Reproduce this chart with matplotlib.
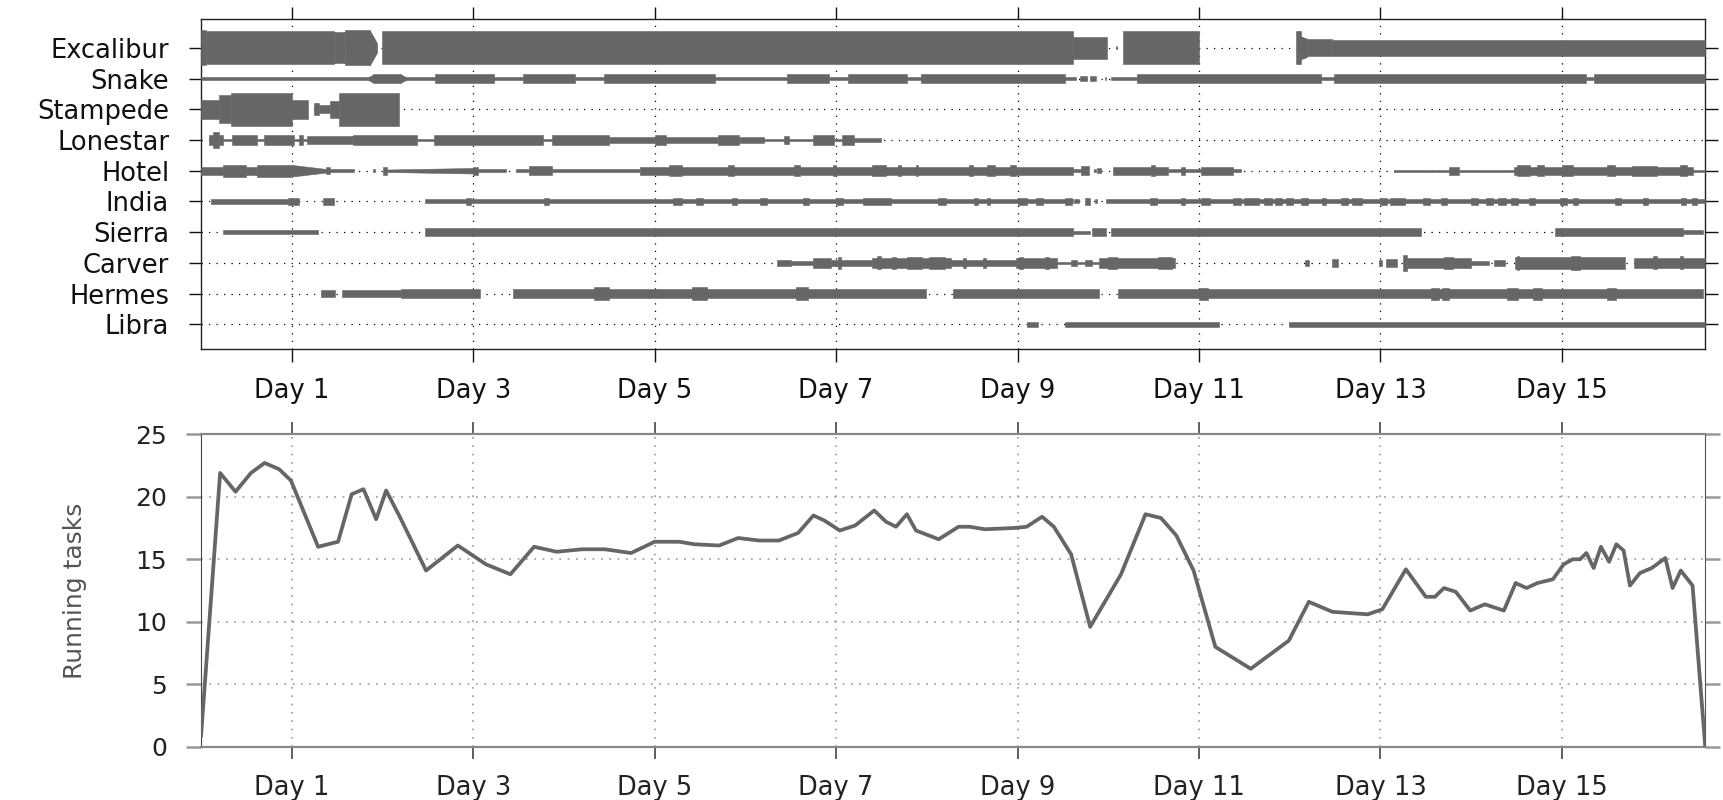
import matplotlib.pyplot as plt

rows = ["Excalibur", "Snake", "Stampede", "Lonestar", "Hotel",
        "India", "Sierra", "Carver", "Hermes", "Libra"]

# lane pieces: (start day, end day, width) or (start, end, width at start, width at end)
excalibur = [(0.0, 0.05, 1.14), (0.05, 1.46, 1.08), (1.46, 1.59, 1.0), (1.59, 1.86, 1.14),
             (1.86, 1.94, 1.14, 0.3), (1.99, 9.61, 1.08), (9.61, 9.99, 0.72), (10.08, 10.10, 0.1),
             (10.16, 11.0, 1.08), (12.07, 12.12, 1.08), (12.12, 12.19, 0.75, 0.6),
             (12.19, 12.47, 0.56), (12.47, 16.58, 0.52)]
snake = [(0.0, 1.84, 0.09), (1.84, 1.90, 0.09, 0.27), (1.90, 2.20, 0.27), (2.20, 2.26, 0.27, 0.09),
         (2.26, 2.58, 0.09), (2.58, 3.23, 0.27), (3.23, 3.55, 0.09), (3.55, 4.12, 0.27),
         (4.12, 4.44, 0.09), (4.44, 5.66, 0.27), (5.66, 6.46, 0.09), (6.46, 6.92, 0.27),
         (6.92, 7.13, 0.09), (7.13, 7.78, 0.27), (7.78, 7.93, 0.09), (7.93, 9.52, 0.27),
         (9.52, 9.64, 0.09), (9.69, 9.77, 0.15), (9.80, 9.86, 0.15), (9.96, 9.98, 0.09),
         (10.03, 10.32, 0.09), (10.32, 12.35, 0.27), (12.35, 12.49, 0.09), (12.49, 15.27, 0.27),
         (15.27, 15.35, 0.09), (15.35, 16.58, 0.27)]
stampede = [(0.0, 0.2, 0.6), (0.2, 0.33, 0.9), (0.33, 1.0, 1.08), (1.0, 1.18, 0.6),
            (1.25, 1.30, 0.4), (1.30, 1.42, 0.25), (1.42, 1.52, 0.55), (1.52, 2.18, 1.08)]
lonestar = [(0.09, 0.13, 0.3), (0.13, 0.2, 0.55), (0.2, 0.24, 0.3), (0.24, 0.34, 0.08),
            (0.34, 0.62, 0.33), (0.62, 0.69, 0.08), (0.69, 1.02, 0.33), (1.02, 1.08, 0.08),
            (1.08, 1.12, 0.3), (1.12, 1.17, 0.08), (1.17, 1.67, 0.28), (1.67, 2.38, 0.33),
            (2.38, 2.57, 0.08), (2.57, 3.77, 0.35), (3.77, 3.87, 0.08), (3.87, 4.5, 0.33),
            (4.5, 5.0, 0.2), (5.0, 5.13, 0.33), (5.13, 5.7, 0.2), (5.7, 5.93, 0.33),
            (5.93, 6.2, 0.2), (6.2, 6.43, 0.08), (6.43, 6.48, 0.25), (6.48, 6.75, 0.08),
            (6.75, 6.98, 0.3), (6.98, 7.06, 0.08), (7.06, 7.2, 0.3), (7.2, 7.49, 0.12)]
hotel = [(0.0, 0.24, 0.27), (0.24, 0.49, 0.38), (0.49, 0.62, 0.27), (0.62, 1.0, 0.38),
         (1.0, 1.40, 0.38, 0.1), (1.38, 1.42, 0.22), (1.42, 1.69, 0.1), (1.90, 1.92, 0.1),
         (2.01, 2.05, 0.25), (2.05, 3.0, 0.08, 0.18), (3.0, 3.05, 0.25), (3.05, 3.36, 0.1),
         (3.47, 3.62, 0.1), (3.62, 3.87, 0.3), (3.87, 4.84, 0.1), (4.84, 9.61, 0.25),
         (5.16, 5.3, 0.35), (5.81, 5.87, 0.35), (6.54, 6.6, 0.35), (6.96, 7.0, 0.35),
         (7.4, 7.55, 0.35), (7.68, 7.72, 0.35), (7.88, 7.9, 0.35), (8.47, 8.51, 0.35),
         (8.66, 8.75, 0.35), (8.92, 8.98, 0.35), (9.61, 9.7, 0.1), (9.7, 9.79, 0.3),
         (9.84, 9.86, 0.1), (9.88, 9.92, 0.15), (10.05, 10.66, 0.25), (10.47, 10.51, 0.35),
         (10.66, 11.02, 0.1), (10.80, 10.84, 0.25), (11.02, 11.38, 0.25), (11.38, 11.46, 0.1),
         (13.15, 13.75, 0.08), (13.75, 13.87, 0.25), (13.87, 14.47, 0.08), (14.47, 16.45, 0.25),
         (14.5, 14.65, 0.35), (14.72, 14.8, 0.35), (15.0, 15.12, 0.35), (15.5, 15.58, 0.35),
         (15.77, 16.05, 0.33), (16.3, 16.38, 0.35), (16.45, 16.58, 0.08)]
india = [(0.11, 0.96, 0.14), (0.96, 1.08, 0.22), (1.34, 1.46, 0.22), (2.47, 9.61, 0.13),
         (2.92, 2.97, 0.2), (3.78, 3.83, 0.2), (5.2, 5.3, 0.2), (5.45, 5.53, 0.2),
         (5.85, 5.91, 0.2), (6.16, 6.24, 0.2), (6.63, 6.7, 0.2), (7.0, 7.08, 0.2),
         (7.3, 7.6, 0.2), (8.12, 8.21, 0.2), (8.52, 8.56, 0.2), (8.66, 8.7, 0.2),
         (9.0, 9.1, 0.2), (9.2, 9.28, 0.2), (9.52, 9.6, 0.2), (9.62, 9.68, 0.13),
         (9.74, 9.8, 0.2), (9.85, 9.87, 0.13), (9.97, 16.58, 0.13),
         (10.46, 10.54, 0.2), (10.8, 10.84, 0.2), (11.02, 11.12, 0.2), (11.38, 11.46, 0.2),
         (11.5, 11.66, 0.2), (11.72, 11.8, 0.2), (11.84, 11.92, 0.2), (11.96, 12.04, 0.2),
         (12.12, 12.2, 0.2), (12.36, 12.4, 0.2), (12.56, 12.64, 0.2), (12.69, 12.8, 0.2),
         (12.99, 13.07, 0.2), (13.11, 13.27, 0.2), (13.47, 13.55, 0.2), (13.67, 13.73, 0.2),
         (14.0, 14.08, 0.2), (14.16, 14.24, 0.2), (14.3, 14.38, 0.2), (14.44, 14.52, 0.2),
         (14.64, 14.7, 0.2), (14.98, 15.06, 0.2), (15.12, 15.18, 0.2), (15.59, 15.65, 0.2),
         (15.89, 15.95, 0.2), (16.31, 16.37, 0.2), (16.43, 16.49, 0.2)]
sierra = [(0.24, 1.29, 0.13), (2.47, 9.61, 0.27), (9.61, 9.8, 0.1), (9.82, 9.97, 0.27),
          (10.03, 13.45, 0.27), (14.92, 16.33, 0.27), (16.33, 16.55, 0.13)]
carver = [(6.35, 6.5, 0.22), (6.5, 6.75, 0.15), (6.75, 6.94, 0.33), (6.94, 7.4, 0.22),
          (7.02, 7.05, 0.38), (7.4, 8.27, 0.3), (7.45, 7.5, 0.42), (7.62, 7.66, 0.4),
          (7.78, 7.95, 0.4), (8.02, 8.2, 0.4), (8.27, 8.98, 0.2), (8.4, 8.43, 0.35),
          (8.62, 8.65, 0.35), (8.98, 9.44, 0.3), (9.02, 9.06, 0.4), (9.3, 9.35, 0.4),
          (9.44, 9.59, 0.08), (9.59, 9.65, 0.2), (9.65, 9.74, 0.08), (9.74, 9.82, 0.2),
          (9.82, 9.9, 0.08), (9.9, 10.74, 0.3), (10.0, 10.1, 0.38), (10.55, 10.7, 0.4),
          (12.17, 12.21, 0.2), (12.47, 12.53, 0.25), (12.98, 13.02, 0.2), (13.06, 13.18, 0.25),
          (13.25, 13.29, 0.5), (13.29, 14.0, 0.3), (13.7, 13.8, 0.38), (14.0, 14.2, 0.15),
          (14.25, 14.37, 0.22), (14.48, 15.69, 0.38), (14.5, 14.53, 0.45), (15.1, 15.2, 0.45),
          (15.79, 16.58, 0.35), (16.0, 16.05, 0.42), (16.3, 16.34, 0.42)]
hermes = [(1.32, 1.48, 0.22), (1.55, 2.2, 0.22), (2.2, 3.08, 0.3), (3.44, 7.99, 0.3),
          (4.33, 4.5, 0.42), (5.41, 5.58, 0.42), (6.56, 6.69, 0.42), (8.29, 9.9, 0.3),
          (10.11, 16.55, 0.3), (11.0, 11.1, 0.4), (13.56, 13.64, 0.4), (13.68, 13.76, 0.4),
          (14.4, 14.52, 0.4), (14.68, 14.78, 0.4), (15.5, 15.6, 0.4)]
libra = [(9.1, 9.23, 0.15), (9.52, 11.22, 0.15), (11.99, 16.58, 0.15)]

lanes = [excalibur, snake, stampede, lonestar, hotel, india, sierra, carver, hermes, libra]

day_ticks = [1, 3, 5, 7, 9, 11, 13, 15]
day_labels = ["Day %d" % d for d in day_ticks]

run_days = [0.0, 0.21, 0.38, 0.55, 0.70, 0.86, 0.99, 1.29, 1.51, 1.66, 1.79, 1.93, 2.04, 2.19,
            2.48, 2.83, 3.14, 3.41, 3.67, 3.92, 4.20, 4.45, 4.74, 5.00, 5.27, 5.44, 5.71, 5.92,
            6.15, 6.37, 6.58, 6.75, 6.87, 7.04, 7.21, 7.42, 7.55, 7.66, 7.78, 7.88, 8.13, 8.35,
            8.47, 8.64, 8.96, 9.10, 9.27, 9.40, 9.59, 9.80, 10.14, 10.41, 10.58, 10.75, 10.94,
            11.18, 11.57, 11.99, 12.21, 12.47, 12.86, 13.02, 13.28, 13.50, 13.60, 13.70, 13.83,
            13.99, 14.15, 14.36, 14.49, 14.61, 14.73, 14.90, 15.02, 15.12, 15.20, 15.27, 15.35,
            15.43, 15.52, 15.60, 15.68, 15.75, 15.86, 15.99, 16.14, 16.22, 16.31, 16.44, 16.58]
run_tasks = [0.9, 21.9, 20.4, 21.9, 22.7, 22.2, 21.3, 16.0, 16.4, 20.2, 20.6, 18.2, 20.5, 18.4,
             14.1, 16.1, 14.6, 13.8, 16.0, 15.6, 15.8, 15.8, 15.5, 16.4, 16.4, 16.2, 16.1, 16.7,
             16.5, 16.5, 17.1, 18.5, 18.1, 17.3, 17.7, 18.9, 18.0, 17.6, 18.6, 17.3, 16.6, 17.6,
             17.6, 17.4, 17.5, 17.6, 18.4, 17.6, 15.4, 9.6, 13.8, 18.6, 18.3, 16.9, 14.1,
             8.0, 6.25, 8.5, 11.6, 10.8, 10.6, 11.0, 14.2, 12.0, 12.0, 12.7, 12.4,
             10.9, 11.4, 10.9, 13.1, 12.7, 13.1, 13.4, 14.6, 15.0, 15.0, 15.5, 14.3,
             16.0, 14.8, 16.2, 15.7, 12.9, 13.9, 14.3, 15.1, 12.7, 14.1, 12.9, 0.0]

GREY = "#666666"
XMAX = 16.58


def draw_lane(ax, y, pieces):
    for p in pieces:
        w0 = p[2]
        w1 = p[3] if len(p) > 3 else w0
        ax.fill_between([p[0], p[1]], [y - w0 / 2, y - w1 / 2], [y + w0 / 2, y + w1 / 2],
                        facecolor=GREY, edgecolor=GREY, linewidth=0.4, zorder=3)


fig = plt.figure(figsize=(17.23, 8), dpi=100)
ax1 = fig.add_axes([0.1167, 0.5638, 0.873, 0.4129])
ax2 = fig.add_axes([0.1167, 0.0663, 0.873, 0.391])

# swim lanes
for i, pieces in enumerate(lanes):
    draw_lane(ax1, i, pieces)
ax1.set_xlim(0, XMAX)
ax1.set_ylim(9.8, -0.95)
ax1.set_yticks(range(len(rows)))
ax1.set_yticklabels(rows)
ax1.set_xticks(day_ticks)
ax1.set_xticklabels(day_labels)
ax1.set_axisbelow(True)
ax1.grid(True, color="black", linestyle=(0, (1, 5)), linewidth=0.9)
ax1.tick_params(axis="both", direction="out", length=9, width=1, top=True, right=True,
                labelsize=18.5, colors="#111111")
ax1.tick_params(axis="x", pad=12)
ax1.tick_params(axis="y", pad=14)
for s in ax1.spines.values():
    s.set_linewidth(1)
    s.set_color("#222222")

# running tasks
ax2.plot(run_days, run_tasks, color=GREY, linewidth=2.7, zorder=3)
ax2.set_xlim(0, XMAX)
ax2.set_ylim(0, 25)
ax2.set_yticks([0, 5, 10, 15, 20, 25])
ax2.set_xticks(day_ticks)
ax2.set_xticklabels(day_labels)
ax2.set_axisbelow(True)
ax2.grid(True, color="#999999", linestyle=(0, (1, 4)), linewidth=1.2)
ax2.tick_params(axis="x", direction="out", length=8.5, width=1.2, top=True,
                color="#444444", labelcolor="#222222", labelsize=18.5, pad=11.5)
ax2.tick_params(axis="y", direction="out", length=10.5, width=1.8, right=True,
                color="#999999", labelcolor="#222222", labelsize=18, pad=14)
ax2.spines["top"].set_color("#888888")
ax2.spines["bottom"].set_color("#888888")
ax2.spines["top"].set_linewidth(1.6)
ax2.spines["bottom"].set_linewidth(1.6)
ax2.spines["left"].set_color("#444444")
ax2.spines["right"].set_color("#555555")
ax2.set_ylabel("Running tasks", fontsize=18, color="#555555")
ax2.yaxis.set_label_coords(-0.0758, 0.5)

plt.savefig("out.png", dpi=100)
